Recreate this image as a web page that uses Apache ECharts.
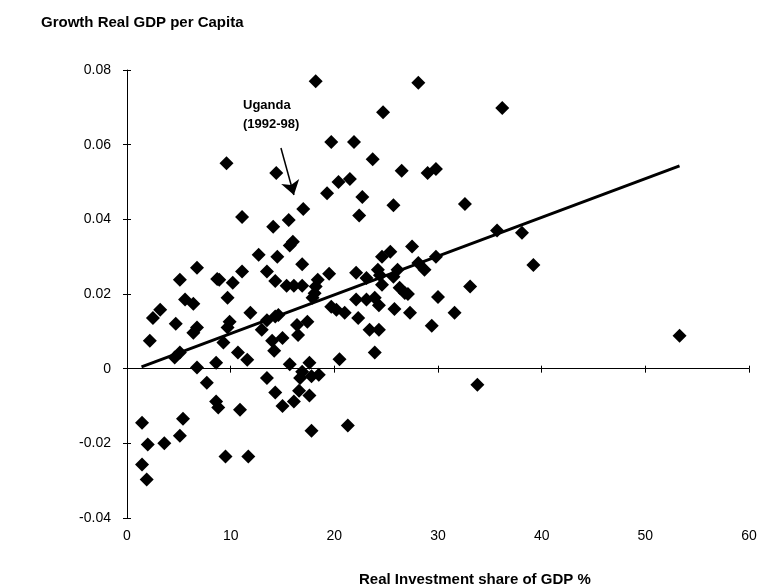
<!DOCTYPE html>
<html>
<head>
<meta charset="utf-8">
<script src="https://cdn.jsdelivr.net/npm/echarts@6/dist/echarts.min.js"></script>
<style>
  html, body { margin: 0; padding: 0; background: #fff; }
  #chart { width: 760px; height: 587px; }
</style>
</head>
<body>
<div id="chart"></div>
<script>
// Real investment share of GDP (%) for each country-period observation
const investShare = [
  18.2, 28.1, 36.2, 24.7, 19.7, 21.9, 9.6, 23.7, 14.4, 26.5,
  29.0, 29.8, 20.4, 21.5, 19.3, 22.7, 25.7, 32.6, 17.0, 11.1,
  15.6, 22.4, 14.1, 35.7, 38.1, 16.0, 15.7, 27.5, 25.4, 24.6,
  29.8, 12.7, 14.5, 16.9, 28.1, 28.7, 39.2, 6.75, 11.1, 13.5,
  19.5, 22.1, 24.2, 24.4, 26.1, 25.7, 23.1, 5.1, 8.7, 8.9,
  10.2, 14.3, 15.4, 16.1, 16.9, 18.4, 18.2, 24.6, 26.3, 26.8,
  27.1, 33.1, 9.7, 17.9, 18.1, 5.6, 6.4, 22.1, 23.1, 23.9,
  24.3, 30.0, 3.2, 2.5, 19.7, 20.2, 21.0, 11.9, 25.8, 27.3,
  31.6, 22.3, 9.9, 9.7, 4.7, 13.5, 14.3, 14.6, 6.75, 6.4,
  13.0, 16.4, 16.5, 17.4, 15.0, 14.0, 2.2, 9.3, 23.4, 24.3,
  29.4, 14.2, 10.7, 11.6, 5.1, 4.6, 20.5, 8.6, 6.75, 23.9,
  53.3, 15.7, 17.6, 16.9, 17.8, 18.5, 16.7, 7.7, 13.5, 14.3,
  16.6, 17.6, 16.1, 15.0, 8.6, 8.8, 10.9, 1.45, 5.4, 17.8,
  5.1, 2.0, 3.6, 9.5, 11.7, 1.45, 1.9, 33.8, 21.3
];

// Growth of real GDP per capita for the same observations
const gdpGrowth = [
  0.0770, 0.0766, 0.0698, 0.0687, 0.0607, 0.0607, 0.0550, 0.0561, 0.0524, 0.0530,
  0.0524, 0.0535, 0.0500, 0.0508, 0.0470, 0.0460, 0.0438, 0.0441, 0.0428, 0.0406,
  0.0398, 0.0410, 0.0380, 0.0370, 0.0364, 0.0340, 0.0330, 0.0327, 0.0313, 0.0300,
  0.0300, 0.0305, 0.0300, 0.0280, 0.0283, 0.0265, 0.0278, 0.0270, 0.0260, 0.0260,
  0.0254, 0.0257, 0.0265, 0.0250, 0.0265, 0.0246, 0.0243, 0.0238, 0.0240, 0.0238,
  0.0230, 0.0235, 0.0222, 0.0222, 0.0222, 0.0238, 0.0220, 0.0225, 0.0217, 0.0203,
  0.0200, 0.0220, 0.0190, 0.0190, 0.0202, 0.0185, 0.0174, 0.0185, 0.0185, 0.0190,
  0.0170, 0.0192, 0.0158, 0.0136, 0.0166, 0.0158, 0.0150, 0.0150, 0.0160, 0.0150,
  0.0150, 0.0136, 0.0126, 0.0110, 0.0120, 0.0130, 0.0140, 0.0144, 0.0110, 0.0096,
  0.0104, 0.0117, 0.0090, 0.0126, 0.0082, 0.0075, 0.0075, 0.0070, 0.0104, 0.0104,
  0.0115, 0.0048, 0.0043, 0.0024, 0.0043, 0.0030, 0.0025, 0.0016, 0.0003, 0.0043,
  0.0088, 0.0012, 0.0016, -0.0008, -0.0020, -0.0016, -0.0025, -0.0038, -0.0025, -0.0064,
  -0.0059, -0.0072, -0.0088, -0.0100, -0.0088, -0.0104, -0.0110, -0.0145, -0.0134, -0.0166,
  -0.0180, -0.0203, -0.0200, -0.0235, -0.0235, -0.0257, -0.0297, -0.0043, -0.0152
];

// Fitted regression line: endpoints in (investment share, growth)
const trendX = [1.4, 53.3];
const trendY = [0.0005, 0.0543];

// Axis ranges and tick spacing
const xRange = [0, 60];
const xStep = 10;
const yRange = [-0.04, 0.08];
const yStep = 0.02;

// Arrow marking the Uganda (1992-98) observation
const ugandaArrow = [[14.85, 0.0591], [16.1, 0.0465]];

const FONT = '"Liberation Sans", Arial, sans-serif';
const points = investShare.map((x, i) => [x, gdpGrowth[i]]);
const trend = trendX.map((x, i) => [x, trendY[i]]);

const chart = echarts.init(document.getElementById('chart'), null, { renderer: 'canvas' });

const baseX = {
  type: 'value', min: xRange[0], max: xRange[1], interval: xStep,
  splitLine: { show: false }
};
const baseY = {
  type: 'value', min: yRange[0], max: yRange[1], interval: yStep,
  splitLine: { show: false }
};

chart.setOption({
  animation: false,
  backgroundColor: '#ffffff',
  title: [
    {
      text: 'Growth Real GDP per Capita',
      left: 36, top: 10,
      textStyle: { fontFamily: FONT, fontSize: 15, fontWeight: 'bold', color: '#000' }
    },
    {
      text: 'Real Investment share of GDP %',
      left: 354, top: 567,
      textStyle: { fontFamily: FONT, fontSize: 15, fontWeight: 'bold', color: '#000' }
    }
  ],
  grid: { left: 127, right: 11, top: 70, bottom: 69, containLabel: false },
  xAxis: [
    // axis line through zero, ticks pointing down
    Object.assign({}, baseX, {
      axisLine: { show: true, onZero: true, lineStyle: { color: '#000', width: 1 } },
      axisTick: { show: true, inside: false, length: 4, lineStyle: { color: '#000' } },
      axisLabel: { show: false }
    }),
    // same line, ticks pointing up
    Object.assign({}, baseX, {
      position: 'bottom',
      axisLine: { show: false, onZero: true },
      axisTick: { show: true, inside: true, length: 3, lineStyle: { color: '#000' } },
      axisLabel: { show: false }
    }),
    // tick labels along the bottom edge
    Object.assign({}, baseX, {
      position: 'bottom',
      axisLine: { show: false, onZero: false },
      axisTick: { show: false },
      axisLabel: { show: true, margin: 11, color: '#000', fontFamily: FONT, fontSize: 14 }
    })
  ],
  yAxis: [
    Object.assign({}, baseY, {
      position: 'left',
      axisLine: { show: true, onZero: false, lineStyle: { color: '#000', width: 1 } },
      axisTick: { show: true, inside: false, length: 4, lineStyle: { color: '#000' } },
      axisLabel: { show: true, margin: 16, color: '#000', fontFamily: FONT, fontSize: 14 }
    }),
    Object.assign({}, baseY, {
      position: 'left',
      offset: 0,
      axisLine: { show: false, onZero: false },
      axisTick: { show: true, inside: true, length: 4, lineStyle: { color: '#000' } },
      axisLabel: { show: false }
    })
  ],
  series: [
    {
      type: 'scatter',
      name: 'observations',
      data: points,
      symbol: 'diamond',
      symbolSize: 14,
      itemStyle: { color: '#000', opacity: 1 },
      z: 3
    },
    {
      type: 'line',
      name: 'fitted',
      data: trend,
      showSymbol: false,
      symbol: 'none',
      lineStyle: { color: '#000', width: 3 },
      z: 4,
      markLine: {
        silent: true,
        symbol: ['none', 'arrow'],
        symbolSize: 14,
        lineStyle: { color: '#000', width: 1.5, type: 'solid' },
        label: { show: false },
        data: [[{ coord: ugandaArrow[0] }, { coord: ugandaArrow[1] }]]
      }
    }
  ],
  graphic: [
    {
      type: 'text',
      left: 243, top: 96,
      style: {
        text: 'Uganda\n(1992-98)',
        fontFamily: FONT, fontSize: 13, fontWeight: 'bold',
        fill: '#000', lineHeight: 19, align: 'left'
      }
    }
  ]
});
</script>
</body>
</html>
